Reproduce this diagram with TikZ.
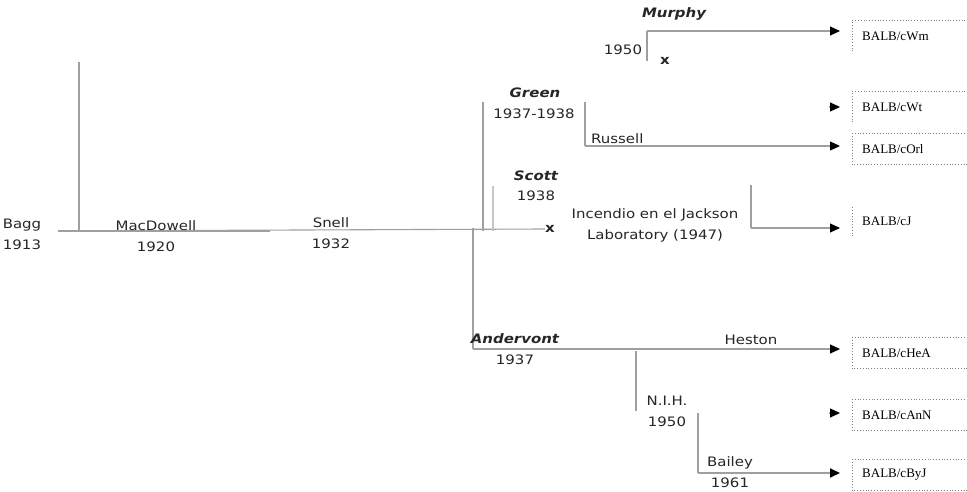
\documentclass[tikz,border=0pt]{standalone}
\usepackage{fontspec}
\newfontfamily\labfont[FakeStretch=1.15]{DejaVu Sans}
\newfontfamily\boxfont{Liberation Serif}
\usetikzlibrary{arrows.meta,positioning}

\tikzset{
	lineage/.style={draw=gray!75, line width=1.1pt},
	tobox/.style={lineage, -{Triangle[length=10pt,width=9pt]}, shorten >=12pt, arrows={[color=black]}},
	lab/.style={font=\labfont\fontsize{13}{21}\selectfont, align=center, inner sep=0pt, text=black!85},
	who/.style={lab, font=\labfont\fontsize{13}{21}\selectfont\bfseries\itshape},
	strainbox/.style={font=\boxfont\fontsize{13}{14}\selectfont, anchor=west, minimum height=30,
		minimum width=160, text width=140, inner xsep=10, align=left},
	boxline/.style={draw=gray, dotted, line width=0.8pt}
}

\begin{document}
\begin{tikzpicture}[x=1pt,y=-1pt]
	\useasboundingbox (0,0) rectangle (967,492);
	\clip (0,0) rectangle (967,492);

	% Strain boxes
	\node[strainbox] (wm) at (852,36) {BALB/cWm};
	\node[strainbox] (wt) at (852,107) {BALB/cWt};
	\node[strainbox] (orl) at (852,149) {BALB/cOrl};
	\node[strainbox] (cj) at (852,221) {BALB/cJ};
	\node[strainbox] (hea) at (852,353) {BALB/cHeA};
	\node[strainbox] (ann) at (852,415) {BALB/cAnN};
	\node[strainbox] (byj) at (852,475) {BALB/cByJ};
	\draw[boxline] (wm.south west) -- (wm.north west) -- (wm.north east);
	\draw[boxline] (wt.south west) -- (wt.north west) -- (wt.north east);
	\draw[boxline] (cj.south west) -- (cj.north west);
	\foreach \b in {orl,hea,ann,byj}
		\draw[boxline] (\b.north east) -- (\b.north west) -- (\b.south west) -- (\b.south east);

	% Main line
	\node[lab] (bagg) at (22,234) {Bagg\\1913};
	\coordinate (root) at (58,231);
	\coordinate (bagtop) at (79,62);
	\node[lab, font=\labfont\fontsize{13}{14}\selectfont\bfseries] (xfire) at (550,229) {x};
	\draw[lineage, line width=1.8pt] (root) -- ++(212,0);
	\draw[lineage] (root) -- (xfire.west);
	\draw[lineage] (bagtop) -- (bagtop |- root);
	\node[lab] (macdowell) at (156,236) {MacDowell\\1920};
	\node[lab] (snell) at (331,233) {Snell\\1932};

	% Green and Scott
	\coordinate (greenb) at (483,102);
	\coordinate (scottb) at (493,186);
	\coordinate (anderb) at (473,228);
	\draw[lineage] (greenb) -- (greenb |- root);
	\draw[lineage, gray!45] (scottb) -- (scottb |- root);
	\node[who] (green) at (535,93) {Green};
	\node[lab] (greenyr) at (534,114) {1937-1938};
	\node[who] (scott) at (536,176) {Scott};
	\node[lab] (scottyr) at (536,196) {1938};

	% Murphy
	\coordinate (jmurphy) at (647,31);
	\draw[lineage] (jmurphy) -- ++(0,30);
	\draw[tobox] (jmurphy) -- (jmurphy -| wm.west);
	\node[who] (murphy) at (674,14) {Murphy};
	\node[lab] (murphyyr) at (623,50) {1950};
	\node[lab, font=\labfont\fontsize{13}{14}\selectfont\bfseries] (xmurphy) at (665,61) {x};

	% Russell
	\coordinate (jrussell) at (585,146);
	\draw[lineage] (greenb -| jrussell) -- (jrussell);
	\draw[tobox] (jrussell) -- (jrussell -| orl.west);
	\node[lab, anchor=west] (russell) at (591,139) {Russell};
	\draw[tobox] ([xshift=-23]wt.west) -- (wt.west);

	% Jackson fire
	\node[lab] (fire) at (655,225) {Incendio en el Jackson\\Laboratory (1947)};
	\coordinate (jjackson) at (751,228);
	\draw[lineage] (jjackson) -- ++(0,-43);
	\draw[tobox] (jjackson) -- (jjackson -| cj.west);

	% Andervont
	\coordinate (jander) at (473,349);
	\draw[lineage] (anderb) -- (jander);
	\draw[tobox] (jander) -- (jander -| hea.west);
	\node[who] (andervont) at (515,339) {Andervont};
	\node[lab] (anderyr) at (515,360) {1937};
	\node[lab] (heston) at (751,340) {Heston};

	% NIH and Bailey
	\coordinate (jnih) at (636,351);
	\draw[lineage] (jnih) -- ++(0,60);
	\node[lab] (nih) at (667,411) {N.I.H.\\1950};
	\draw[tobox] ([xshift=-23]ann.west |- 0,413) -- (ann.west |- 0,413);
	\coordinate (jbailey) at (698,473);
	\draw[lineage] (jbailey) -- ++(0,-60);
	\draw[tobox, line width=1.8pt] (jbailey) -- (jbailey -| byj.west);
	\node[lab] (bailey) at (730,472) {Bailey\\1961};
\end{tikzpicture}
\end{document}
